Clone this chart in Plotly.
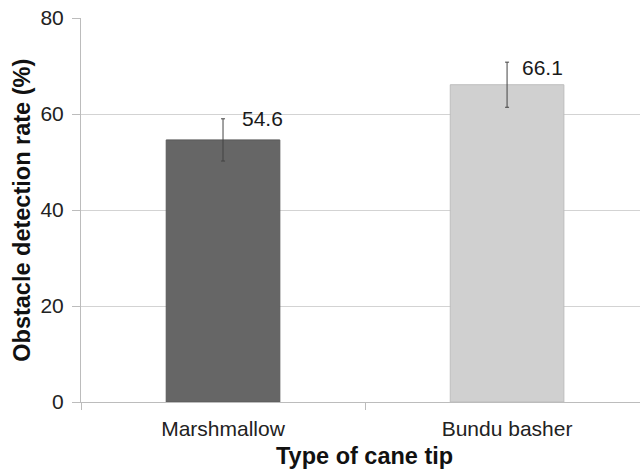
import plotly.graph_objects as go

categories = ["Marshmallow", "Bundu basher"]
values = [54.6, 66.1]
errors = [4.4, 4.7]
labels = ["54.6", "66.1"]
bar_colors = ["#666666", "#d0d0d0"]
bar_lines = ["#5a5a5a", "#bdbdbd"]
y_ticks = [0, 20, 40, 60, 80]
label_xshift = [17, 13]
label_yshift = [8, 4]

font_family = "Liberation Sans, Arial, sans-serif"

fig = go.Figure()
fig.add_trace(go.Bar(
    x=categories, y=values, width=0.4,
    marker=dict(color=bar_colors, line=dict(color=bar_lines, width=1)),
    error_y=dict(type="data", array=errors, visible=True, color="#444444", thickness=1, width=2),
    showlegend=False,
))

for c, v, t, xs, ys in zip(categories, values, labels, label_xshift, label_yshift):
    fig.add_annotation(x=c, y=v, text=t, showarrow=False, xanchor="left", yanchor="bottom",
                       xshift=xs, yshift=ys, font=dict(family=font_family, size=21, color="#1a1a1a"))

fig.add_annotation(text="<b>Type of cane tip</b>", xref="paper", yref="paper", x=0.508, y=-0.141,
                   xanchor="center", yanchor="middle", showarrow=False,
                   font=dict(family=font_family, size=23.5, color="#111111"))
fig.add_annotation(text="<b>Obstacle detection rate (%)</b>", xref="paper", yref="paper", x=-0.106, y=0.5,
                   xanchor="center", yanchor="middle", textangle=-90, showarrow=False,
                   font=dict(family=font_family, size=23.5, color="#111111"))

fig.update_layout(
    width=640, height=473,
    margin=dict(l=81, r=0, t=18, b=71),
    paper_bgcolor="white", plot_bgcolor="white",
    font=dict(family=font_family, color="#222222"),
    bargap=0.6,
)
fig.update_xaxes(
    range=[-0.5, 1.468], showgrid=False, showline=True, linecolor="#bcbcbc", linewidth=1,
    ticks="outside", tickson="boundaries", ticklen=7, tickcolor="#bcbcbc",
    tickfont=dict(size=21, color="#222222"), automargin=False, ticklabelstandoff=8,
)
fig.update_yaxes(
    range=[0, 80], tickvals=y_ticks, showgrid=True, gridcolor="#d3d3d3", gridwidth=1,
    showline=True, linecolor="#bcbcbc", linewidth=1, zeroline=False,
    ticks="outside", ticklen=8, tickcolor="#bcbcbc",
    tickfont=dict(size=21, color="#222222"), automargin=False,
    ticklabeloverflow="allow", ticklabelstandoff=4,
)

fig.write_html("out.html", config={"displayModeBar": False},
               post_script="document.body.style.margin='0';")
